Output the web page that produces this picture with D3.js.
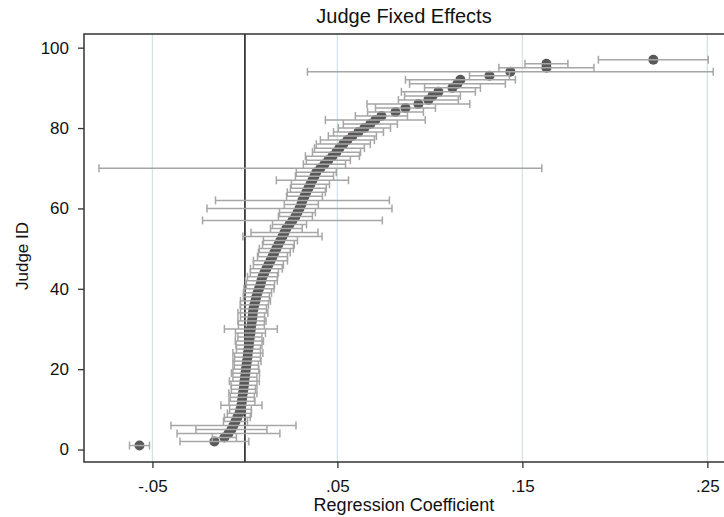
<!DOCTYPE html>
<html>
<head>
<meta charset="utf-8">
<script src="https://cdn.jsdelivr.net/npm/d3@7"></script>
<style>
  body { margin: 0; background: #fff; }
  text { font-family: "Liberation Sans", Arial, sans-serif; fill: #111; }
</style>
</head>
<body>
<svg id="chart" width="724" height="517"></svg>
<script>
// judge fixed effects, sorted, judge id = rank
const judgeIds = d3.range(1, 98);
const coefs = [
  -0.0570, -0.0165, -0.0111, -0.0089, -0.0073, -0.0062, -0.0051, -0.0041, -0.0030, -0.0024,
  -0.0019, -0.0016, -0.0014, -0.0011, -0.0008, -0.0005, -0.0003, 0.0000, 0.0003, 0.0005,
  0.0008, 0.0011, 0.0014, 0.0016, 0.0019, 0.0022, 0.0024, 0.0027, 0.0030, 0.0032,
  0.0035, 0.0038, 0.0041, 0.0043, 0.0046, 0.0051, 0.0057, 0.0062, 0.0068, 0.0076,
  0.0084, 0.0089, 0.0095, 0.0105, 0.0116, 0.0127, 0.0138, 0.0149, 0.0159, 0.0170,
  0.0181, 0.0192, 0.0203, 0.0214, 0.0224, 0.0241, 0.0257, 0.0273, 0.0284, 0.0295,
  0.0305, 0.0311, 0.0322, 0.0332, 0.0343, 0.0354, 0.0365, 0.0376, 0.0386, 0.0408,
  0.0430, 0.0451, 0.0473, 0.0495, 0.0511, 0.0532, 0.0554, 0.0581, 0.0614, 0.0646,
  0.0678, 0.0705, 0.0738, 0.0814, 0.0868, 0.0938, 0.0992, 0.1014, 0.1046, 0.1122,
  0.1149, 0.1165, 0.1322, 0.1435, 0.1630, 0.1630, 0.2208
];
// half width of the 95% interval
const ciHalf = [
  0.0054, 0.0186, 0.0065, 0.0278, 0.0192, 0.0338, 0.0065, 0.0070, 0.0065, 0.0059,
  0.0111, 0.0070, 0.0065, 0.0076, 0.0065, 0.0070, 0.0081, 0.0065, 0.0076, 0.0070,
  0.0065, 0.0076, 0.0070, 0.0081, 0.0065, 0.0070, 0.0076, 0.0065, 0.0081, 0.0143,
  0.0070, 0.0076, 0.0065, 0.0081, 0.0070, 0.0076, 0.0081, 0.0070, 0.0076, 0.0081,
  0.0076, 0.0086, 0.0081, 0.0076, 0.0086, 0.0081, 0.0092, 0.0081, 0.0086, 0.0092,
  0.0086, 0.0092, 0.0214, 0.0181, 0.0086, 0.0092, 0.0486, 0.0092, 0.0097, 0.0500,
  0.0092, 0.0470, 0.0097, 0.0103, 0.0097, 0.0103, 0.0195, 0.0103, 0.0108, 0.1197,
  0.0114, 0.0119, 0.0146, 0.0130, 0.0135, 0.0146, 0.0146, 0.0130, 0.0135, 0.0141,
  0.0146, 0.0270, 0.0141, 0.0151, 0.0162, 0.0278, 0.0162, 0.0151, 0.0200, 0.0151,
  0.0259, 0.0297, 0.0108, 0.1097, 0.0257, 0.0116, 0.0297
];
const xTicks = [-0.05, 0.05, 0.15, 0.25];
const xTickLabels = ["-.05", ".05", ".15", ".25"];
const yTicks = [0, 20, 40, 60, 80, 100];

const data = judgeIds.map((id, i) => ({
  id,
  b: coefs[i],
  lo: coefs[i] - ciHalf[i],
  hi: coefs[i] + ciHalf[i],
}));

const svg = d3.select("#chart");
const margin = { top: 34, right: 0, bottom: 55, left: 84 };
const width = 724;
const height = 517;

const x = d3.scaleLinear().domain([-0.087, 0.259]).range([margin.left, width - margin.right]);
const y = d3.scaleLinear().domain([-3.1, 103.4]).range([height - margin.bottom, margin.top]);

// grid lines
svg.append("g")
  .selectAll("line")
  .data(xTicks)
  .enter()
  .append("line")
  .attr("x1", d => x(d)).attr("x2", d => x(d))
  .attr("y1", y.range()[1]).attr("y2", y.range()[0])
  .attr("stroke", "#d3e3ea")
  .attr("stroke-width", 1.3);

// reference line at zero
svg.append("line")
  .attr("x1", x(0)).attr("x2", x(0))
  .attr("y1", y.range()[1]).attr("y2", y.range()[0])
  .attr("stroke", "#222")
  .attr("stroke-width", 1.6);

// points
svg.append("g")
  .selectAll("circle")
  .data(data)
  .enter()
  .append("circle")
  .attr("cx", d => x(d.b))
  .attr("cy", d => y(d.id))
  .attr("r", 5)
  .attr("fill", "#585858");

// error bars drawn over the points
const bars = svg.append("g")
  .attr("stroke", "#a6a6a6")
  .attr("stroke-width", 1.5)
  .selectAll("g")
  .data(data)
  .enter()
  .append("g");
bars.append("line")
  .attr("x1", d => x(d.lo)).attr("x2", d => x(d.hi))
  .attr("y1", d => y(d.id)).attr("y2", d => y(d.id));
bars.append("line")
  .attr("x1", d => x(d.lo)).attr("x2", d => x(d.lo))
  .attr("y1", d => y(d.id) - 4).attr("y2", d => y(d.id) + 4);
bars.append("line")
  .attr("x1", d => x(d.hi)).attr("x2", d => x(d.hi))
  .attr("y1", d => y(d.id) - 4).attr("y2", d => y(d.id) + 4);

// frame
svg.append("path")
  .attr("d", `M${width + 2},${margin.top}H${margin.left}V${height - margin.bottom}H${width + 2}`)
  .attr("fill", "none")
  .attr("stroke", "#333")
  .attr("stroke-width", 1.5);

// axes
const xAxis = svg.append("g")
  .attr("transform", `translate(0,${height - margin.bottom})`)
  .call(d3.axisBottom(x).tickValues(xTicks).tickFormat((d, i) => xTickLabels[i]).tickSize(6).tickPadding(12));
const yAxis = svg.append("g")
  .attr("transform", `translate(${margin.left},0)`)
  .call(d3.axisLeft(y).tickValues(yTicks).tickSize(6).tickPadding(9));
[xAxis, yAxis].forEach(a => {
  a.select(".domain").remove();
  a.selectAll(".tick line").attr("stroke", "#333").attr("stroke-width", 1.3);
  a.selectAll(".tick text").style("font-size", "17px").style("font-family", "Liberation Sans, Arial, sans-serif").attr("fill", "#111");
});

svg.append("text")
  .attr("x", (margin.left + width) / 2)
  .attr("y", 23)
  .attr("text-anchor", "middle")
  .style("font-size", "20px")
  .text("Judge Fixed Effects");

svg.append("text")
  .attr("x", (margin.left + width) / 2)
  .attr("y", 511)
  .attr("text-anchor", "middle")
  .style("font-size", "18px")
  .text("Regression Coefficient");

svg.append("text")
  .attr("transform", `translate(28,${(margin.top + height - margin.bottom) / 2 + 8}) rotate(-90)`)
  .attr("text-anchor", "middle")
  .style("font-size", "17px")
  .text("Judge ID");
</script>
</body>
</html>
